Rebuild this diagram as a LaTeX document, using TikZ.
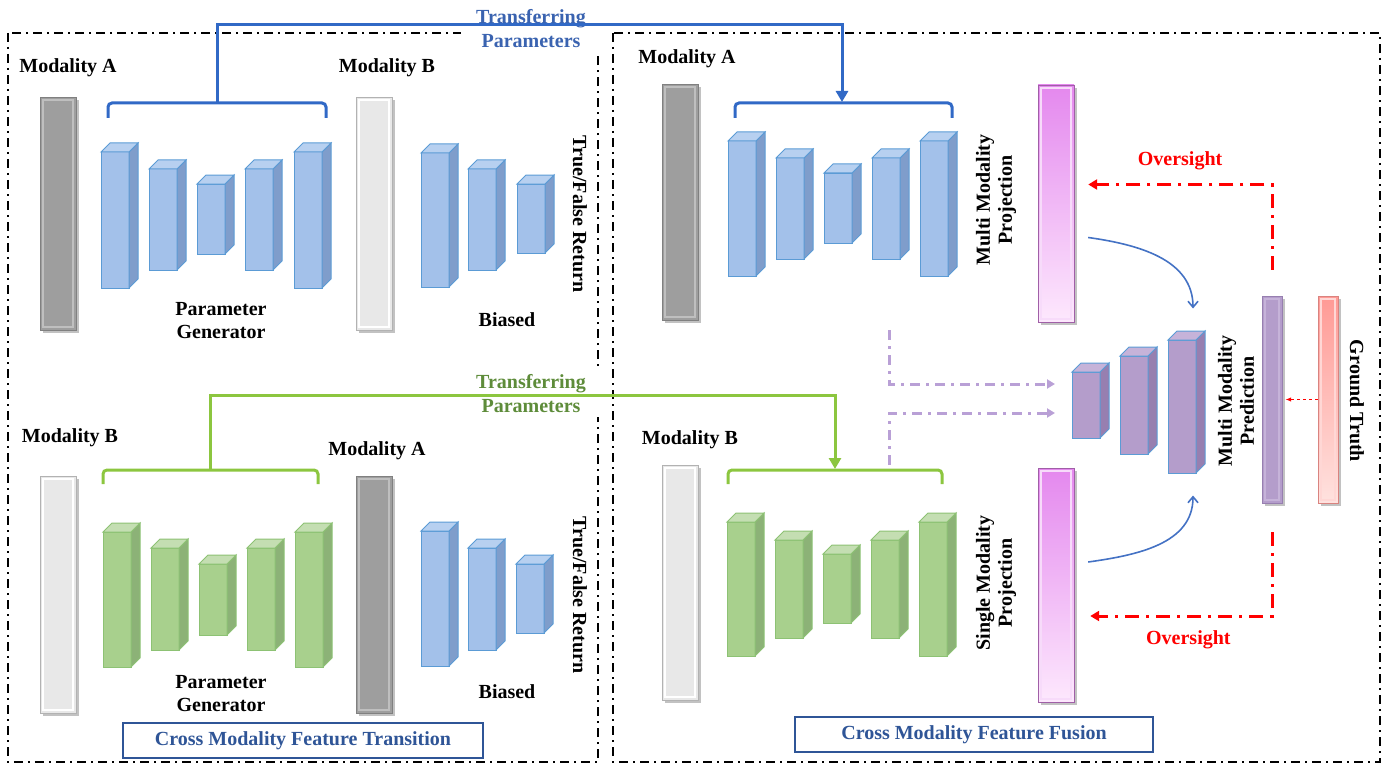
\documentclass[tikz,border=0pt]{standalone}
\usepackage{fontspec}
\setmainfont{Liberation Serif}
\usepackage{xcolor}
\usetikzlibrary{arrows.meta,shadows}

\definecolor{cubeblue}{HTML}{A3C1EA}
\definecolor{cubebluesd}{HTML}{7F9DCB}
\definecolor{cubebluetp}{HTML}{B7D0F0}
\definecolor{edgeblue}{HTML}{5B9BD5}
\definecolor{cubegreen}{HTML}{A8D08D}
\definecolor{cubegreensd}{HTML}{8CB277}
\definecolor{cubegreentp}{HTML}{C4DEB2}
\definecolor{edgegreen}{HTML}{8DC274}
\definecolor{cubepurple}{HTML}{B49DCB}
\definecolor{cubepurplesd}{HTML}{977FB0}
\definecolor{cubepurpletp}{HTML}{C6B3D9}
\definecolor{linkblue}{HTML}{3169C6}
\definecolor{textblue}{HTML}{3A63B0}
\definecolor{boxblue}{HTML}{2F5597}
\definecolor{linkgreen}{HTML}{8CC63F}
\definecolor{textgreen}{HTML}{5E8C3A}
\definecolor{dashpurple}{HTML}{B9A0D6}
\definecolor{curveblue}{HTML}{4472C4}
\definecolor{pinktop}{HTML}{E488EE}
\definecolor{pinkbot}{HTML}{FDE8FD}
\definecolor{gttop}{HTML}{FF9A95}
\definecolor{gtbot}{HTML}{FFE2DF}

\tikzset{
	lbl/.style={font=\bfseries\fontsize{20}{22}\selectfont, inner sep=1pt},
	frame/.style={line width=2pt, dash pattern=on 9pt off 5pt on 2pt off 5pt},
	bar/.style={rectangle, inner sep=0pt, minimum width=36pt, minimum height=234pt,
		drop shadow={shadow xshift=3pt, shadow yshift=-3pt, opacity=0.4, fill=black!60},
		path picture={\draw[#1, line width=1.2pt] ([shift={(3pt,-3pt)}]path picture bounding box.north west) rectangle ([shift={(-3pt,3pt)}]path picture bounding box.south east);}},
	darkbar/.style={bar=black!25, fill=black!38, draw=black!50},
	lightbar/.style={bar=white, fill=black!9, draw=black!30},
	pinkbar/.style={bar=white!70!pinktop, top color=pinktop, bottom color=pinkbot, draw=black!30!pinktop},
	predbar/.style={bar=cubepurpletp, fill=cubepurple, draw=cubepurplesd, minimum width=20pt, minimum height=207pt},
	gtbar/.style={bar=white!60!gttop, top color=gttop, bottom color=gtbot, draw=black!15!gttop, minimum width=20pt, minimum height=207pt},
	bluefront/.style={fill=cubeblue, draw=edgeblue, line width=1pt},
	blueside/.style={fill=cubebluesd, draw=edgeblue, line width=1pt},
	bluetop/.style={fill=cubebluetp, draw=edgeblue, line width=1pt},
	greenfront/.style={fill=cubegreen, draw=edgegreen, line width=1pt},
	greenside/.style={fill=cubegreensd, draw=edgegreen, line width=1pt},
	greentop/.style={fill=cubegreentp, draw=edgegreen, line width=1pt},
	purplefront/.style={fill=cubepurple, draw=edgeblue, line width=1pt},
	purpleside/.style={fill=cubepurplesd, draw=edgeblue, line width=1pt},
	purpletop/.style={fill=cubepurpletp, draw=edgeblue, line width=1pt},
	bracketblue/.style={draw=linkblue, line width=3pt, rounded corners=4pt},
	bracketgreen/.style={draw=linkgreen, line width=3pt, rounded corners=4pt},
	transfer/.style={line width=3pt, -{Triangle[width=12pt,length=11pt]}},
	fuse/.style={draw=dashpurple, line width=3pt, dash pattern=on 10pt off 6pt on 3pt off 6pt, -{Triangle[width=9pt,length=8pt]}},
	oversight/.style={draw=red, line width=3pt, dash pattern=on 14pt off 7pt on 3pt off 7pt, -{Triangle[width=10pt,length=9pt]}},
	curve/.style={draw=curveblue, line width=1.6pt, -{Straight Barb[length=6pt,width=10pt]}},
	titlebox/.style={lbl, draw=boxblue, line width=1.2pt, fill=white, text=boxblue, minimum height=35pt}
}

% #1 palette, #2 name, #3 left, #4 top, #5 height
\newcommand{\cuboid}[5]{%
	\filldraw[#1front] (#3,#4) rectangle ++(28,#5);
	\filldraw[#1side] (#3+28,#4) -- ++(9,-9) -- ++(0,#5) -- ++(-9,9) -- cycle;
	\filldraw[#1top] (#3,#4) -- ++(9,-9) -- ++(28,0) -- ++(-9,9) -- cycle;
	\coordinate (#2) at (#3+14,#4+#5/2);
}

\begin{document}
\begin{tikzpicture}[x=1pt,y=-1pt]
	\useasboundingbox (0,0) rectangle (1387,765);
	\draw[frame] (8,33) rectangle (598,762);
	\draw[frame] (613,33) rectangle (1380,762);

	\node[lbl] (labA1) at (68,68) {Modality A};
	\node[lbl] (labB1) at (387,68) {Modality B};
	\node[lbl] (labA3) at (687,59) {Modality A};
	\node[lbl] (labB2) at (70,438) {Modality B};
	\node[lbl] (labA2) at (377,451) {Modality A};
	\node[lbl] (labB3) at (690,440) {Modality B};

	\node[darkbar, minimum height=233pt] (mA1) at (58,213.5) {};
	\node[lightbar, minimum height=233pt] (mB1) at (374,213.5) {};
	\node[lightbar, minimum height=237pt] (mB2) at (58,594.5) {};
	\node[darkbar, minimum height=237pt] (mA2) at (374,594.5) {};
	\node[darkbar, minimum height=236pt] (mA3) at (680,202) {};
	\node[lightbar, minimum height=235pt] (mB3) at (680,582.5) {};
	\node[pinkbar, minimum height=237pt] (mmp) at (1056,203.5) {};
	\node[pinkbar, minimum height=234pt] (smp) at (1056,585) {};
	\node[predbar] (pred) at (1272,399.5) {};
	\node[gtbar] (gt) at (1328,399.5) {};

	\foreach \cx/\cy/\ch [count=\i] in {101/152/136,149/169/101,197/184/70,245/169/101,294/152/136}
		\cuboid{blue}{genA\i}{\cx}{\cy}{\ch};
	\foreach \cx/\cy/\ch [count=\i] in {421/153/134,468/169/101,517/184/69}
		\cuboid{blue}{biasA\i}{\cx}{\cy}{\ch};
	\foreach \cx/\cy/\ch [count=\i] in {103/532/135,151/548/102,199/564/71,247/548/102,295/532/135}
		\cuboid{green}{genB\i}{\cx}{\cy}{\ch};
	\foreach \cx/\cy/\ch [count=\i] in {421/531/135,468/548/102,516/564/69}
		\cuboid{blue}{biasB\i}{\cx}{\cy}{\ch};
	\foreach \cx/\cy/\ch [count=\i] in {728/141/135,776/158/101,824/173/70,872/158/101,920/141/135}
		\cuboid{blue}{fuseA\i}{\cx}{\cy}{\ch};
	\foreach \cx/\cy/\ch [count=\i] in {727/522/134,775/540/98,823/554/69,871/540/98,919/522/134}
		\cuboid{green}{fuseB\i}{\cx}{\cy}{\ch};
	\foreach \cx/\cy/\ch [count=\i] in {1072/372/66,1120/356/98,1168/340/133}
		\cuboid{purple}{pc\i}{\cx}{\cy}{\ch};

	\node[lbl, align=center, font=\bfseries\fontsize{20}{23}\selectfont] (pgA) at (221,321) {Parameter\\Generator};
	\node[lbl, align=center, font=\bfseries\fontsize{20}{23}\selectfont] (pgB) at (221,694) {Parameter\\Generator};
	\node[lbl] (biA) at (507,320) {Biased};
	\node[lbl] (biB) at (507,692) {Biased};
	\node[lbl, rotate=-90] (tfrA) at (580,214) {True/False Return};
	\node[lbl, rotate=-90] (tfrB) at (580,595) {True/False Return};
	\node[lbl, rotate=90, align=center] (mmpl) at (996,200) {Multi Modality\\Projection};
	\node[lbl, rotate=90, align=center] (smpl) at (996,583) {Single Modality\\Projection};
	\node[lbl, rotate=90, align=center] (mmpr) at (1236,401) {Multi Modality\\Prediction};
	\node[lbl, rotate=-90] (gtl) at (1357,401) {Ground Truth};

	\draw[bracketblue] (108,118) -- (108,103) -- (326,103) -- (326,118);
	\draw[bracketblue] (735,118) -- (735,103) -- (952,103) -- (952,118);
	\draw[bracketgreen] (103,484) -- (103,470) -- (318,470) -- (318,484);
	\draw[bracketgreen] (728,484) -- (728,470) -- (942,470) -- (942,484);
	\coordinate (brTL) at (217,103);
	\coordinate (brTR) at (842,102);
	\coordinate (brBL) at (210,470);
	\coordinate (brBR) at (835,469);

	\node[lbl, align=center, fill=white, inner xsep=15pt, inner ysep=4pt, text=textblue, font=\bfseries\fontsize{20}{24}\selectfont] (tpA) at (531,29) {Transferring\\Parameters};
	\node[lbl, align=center, fill=white, inner xsep=15pt, inner ysep=4pt, text=textgreen, font=\bfseries\fontsize{20}{24}\selectfont] (tpB) at (531,394) {Transferring\\Parameters};
	\draw[transfer, linkblue] (brTL) -- ++(0,-78) -| (brTR);
	\draw[transfer, linkgreen] (brBL) -- ++(0,-75) -| (brBR);

	\coordinate (fromA) at (889,330);
	\coordinate (fromB) at (889,465);
	\coordinate (toA) at (1055,384);
	\coordinate (toB) at (1055,413);
	\draw[fuse] (fromA) |- (toA);
	\draw[fuse] (fromB) |- (toB);

	\draw[curve] ([shift={(14,34)}]mmp.east) to[out=-8,in=90] ([shift={(11,-98)}]pc3);
	\draw[curve] ([shift={(14,-23)}]smp.east) to[out=8,in=-90] ([shift={(11,89)}]pc3);

	\draw[oversight] ([yshift=26pt]pred.north) |- ([shift={(14,-19)}]mmp.east)
		node[lbl, pos=0.75, above=12pt, text=red] (osA) {Oversight};
	\draw[oversight] ([yshift=-29pt]pred.south) |- ([shift={(16,31)}]smp.east)
		node[lbl, pos=0.73, below=12pt, text=red] (osB) {Oversight};
	\draw[red, dashed, line width=1.2pt, -{Latex[length=6pt]}] (gt.west) -- ([xshift=3pt]pred.east);

	\node[titlebox, minimum width=360pt] (cmft) at (303,740.5) {Cross Modality Feature Transition};
	\node[titlebox, minimum width=358pt] (cmff) at (974,734.5) {Cross Modality Feature Fusion};
\end{tikzpicture}
\end{document}
